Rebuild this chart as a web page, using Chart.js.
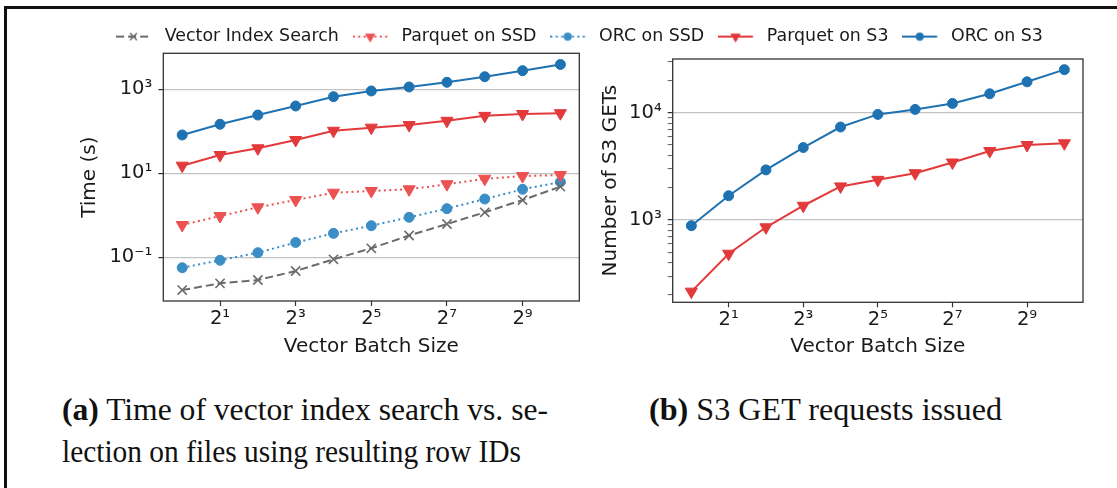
<!DOCTYPE html>
<html>
<head>
<meta charset="utf-8">
<script src="https://cdn.jsdelivr.net/npm/chart.js@4.4.1/dist/chart.umd.min.js"></script>
<style>
  body { margin: 0; background: #fff; }
  #fig { position: relative; width: 1117px; height: 488px; overflow: hidden; background: #fff; }
  #frame { position: absolute; left: 4px; top: 6px; width: 1200px; height: 600px;
           border-left: 3px solid #111; border-top: 3px solid #111; }
  canvas { position: absolute; }
  .cap { position: absolute; font-family: "Liberation Serif", serif; font-size: 32px;
         line-height: 42px; color: #111; white-space: nowrap; transform-origin: 0 0; }
  .cap b { font-weight: bold; }
</style>
</head>
<body>
<div id="fig">
  <div id="frame"></div>
  <canvas id="timeChart" width="590" height="330" style="left:0px;top:40px"></canvas>
  <canvas id="getsChart" width="527" height="330" style="left:590px;top:40px"></canvas>
  <canvas id="legendChart" width="1075" height="120" style="left:42px;top:14px"></canvas>
  <div class="cap" data-w="486" style="left:62px;top:388px"><b>(a)</b> Time of vector index search vs. se-</div>
  <div class="cap" data-w="459" style="left:62px;top:430px">lection on files using resulting row IDs</div>
  <div class="cap" data-w="353" style="left:649px;top:388px"><b>(b)</b> S3 GET requests issued</div>
</div>
<script>
// values
const batchSizes = [1, 2, 4, 8, 16, 32, 64, 128, 256, 512, 1024];

// (a) time in seconds
const vectorSearchTime = [0.0166, 0.024, 0.0288, 0.0472, 0.0895, 0.164, 0.33, 0.62, 1.18, 2.31, 4.8];
const parquetSsdTime   = [0.587, 0.96, 1.55, 2.31, 3.45, 3.79, 4.16, 5.5, 7.4, 8.6, 9.1];
const orcSsdTime       = [0.0565, 0.085, 0.129, 0.225, 0.372, 0.565, 0.895, 1.44, 2.44, 4.16, 6.2];
const parquetS3Time    = [15.2, 27.3, 39.4, 62, 103, 122, 141, 178, 233, 258, 270];
const orcS3Time        = [81.7, 147, 244, 400, 667, 912, 1135, 1468, 1995, 2773, 3900];

// (b) number of S3 GET requests
const parquetS3Gets = [215, 485, 855, 1358, 2056, 2367, 2730, 3435, 4395, 5000, 5190];
const orcS3Gets     = [885, 1683, 2931, 4732, 7352, 9640, 10730, 12200, 15000, 19400, 25200];

const seriesNames = ['Vector Index Search', 'Parquet on SSD', 'ORC on SSD', 'Parquet on S3', 'ORC on S3'];

const xTickValues = [2, 8, 32, 128, 512];
const xTickLabels = ['2\u00B9', '2\u00B3', '2\u2075', '2\u2077', '2\u2079'];
const timeTickValues = [0.1, 10, 1000];
const timeTickLabels = ['10\u207B\u00B9', '10\u00B9', '10\u00B3'];
const getsTickValues = [1000, 10000];
const getsTickLabels = ['10\u00B3', '10\u2074'];

const FONT = 'DejaVu Sans';
const TEXT = '#1a1a1a';

const styles = {
  'Vector Index Search': { color: '#6b6b6b', dash: [8, 4], marker: 'crossRot', radius: 6.5, mbw: 1.6 },
  'Parquet on SSD':      { color: '#ec5252', dash: [2, 3.4], marker: 'triangle', rotation: 180, radius: 7, mbw: 1 },
  'ORC on SSD':          { color: '#3b8dc6', dash: [2, 3.4], marker: 'circle', radius: 5, mbw: 1 },
  'Parquet on S3':       { color: '#e3393b', dash: [], marker: 'triangle', rotation: 180, radius: 7, mbw: 1 },
  'ORC on S3':           { color: '#1f72b1', dash: [], marker: 'circle', radius: 5, mbw: 1 }
};

function dataset(name, values) {
  const st = styles[name];
  return {
    label: name,
    data: batchSizes.map((b, i) => ({ x: b, y: values[i] })),
    borderColor: st.color,
    backgroundColor: st.color,
    borderWidth: 2,
    borderDash: st.dash,
    pointStyle: st.marker,
    pointRotation: st.rotation || 0,
    pointRadius: st.radius,
    pointBorderWidth: st.mbw,
    pointBorderColor: st.color,
    pointBackgroundColor: st.color,
    tension: 0
  };
}

const framePlugin = {
  id: 'frame',
  afterDatasetsDraw(chart) {
    const { ctx, chartArea: a } = chart;
    ctx.save();
    ctx.strokeStyle = '#333';
    ctx.lineWidth = 1.3;
    ctx.strokeRect(a.left, a.top, a.right - a.left, a.bottom - a.top);
    ctx.restore();
  }
};

function xAxis(height) {
  return {
    type: 'logarithmic',
    min: Math.pow(2, -0.5),
    max: Math.pow(2, 10.5),
    bounds: 'data',
    afterBuildTicks: s => { s.ticks = xTickValues.map(v => ({ value: v })); },
    afterFit: s => { s.height = height; s.paddingLeft = 0; s.paddingRight = 0; },
    ticks: {
      autoSkip: false, maxRotation: 0, padding: 1, color: TEXT,
      font: { family: FONT, size: 19.5 },
      callback: (v, i) => xTickLabels[i]
    },
    grid: { drawOnChartArea: false, tickColor: '#333', tickLength: 5, tickWidth: 1.2 },
    border: { display: false },
    title: { display: true, text: 'Vector Batch Size', color: TEXT,
             font: { family: FONT, size: 20 }, padding: { top: 0, bottom: 11 } }
  };
}

function yAxis(opts) {
  return {
    type: 'logarithmic',
    min: opts.min,
    max: opts.max,
    bounds: 'data',
    afterBuildTicks: s => { s.ticks = opts.ticks.map(v => ({ value: v })); },
    afterFit: s => { s.width = opts.width; s.paddingTop = 0; s.paddingBottom = 0; },
    ticks: {
      autoSkip: false, padding: 6, color: TEXT,
      font: { family: FONT, size: 19.5 },
      callback: v => {
        const k = opts.labelValues.indexOf(v);
        return k >= 0 ? opts.labels[k] : '';
      }
    },
    grid: {
      color: c => (c.tick && opts.labelValues.indexOf(c.tick.value) >= 0) ? '#c2c2c2' : 'rgba(0,0,0,0)',
      lineWidth: 1.2,
      tickColor: '#333', tickLength: 5,
      tickWidth: c => (c.tick && opts.labelValues.indexOf(c.tick.value) >= 0) ? 1.2 : 0.8
    },
    border: { display: false },
    title: { display: true, text: opts.title, color: TEXT,
             font: { family: FONT, size: 20 }, padding: { top: opts.titlePad, bottom: 0 } }
  };
}

const baseOptions = {
  responsive: false,
  animation: false,
  events: [],
  plugins: { legend: { display: false }, tooltip: { enabled: false } }
};

new Chart(document.getElementById('timeChart'), {
  type: 'line',
  data: {
    datasets: [
      dataset('Vector Index Search', vectorSearchTime),
      dataset('Parquet on SSD', parquetSsdTime),
      dataset('ORC on SSD', orcSsdTime),
      dataset('Parquet on S3', parquetS3Time),
      dataset('ORC on S3', orcS3Time)
    ]
  },
  options: Object.assign({}, baseOptions, {
    layout: { padding: { left: 0, top: 13.3, right: 10.7, bottom: 0 } },
    scales: {
      x: xAxis(69),
      y: yAxis({ min: 0.00912, max: 7194, ticks: timeTickValues, labelValues: timeTickValues,
                 labels: timeTickLabels, width: 163.3, title: 'Time (s)', titlePad: 78 })
    }
  }),
  plugins: [framePlugin]
});

// minor tick positions for the GET axis
const getsMinor = [];
[100, 1000, 10000].forEach(d => { for (let m = 2; m <= 9; m++) if (m * d < 31000) getsMinor.push(m * d); });

new Chart(document.getElementById('getsChart'), {
  type: 'line',
  data: {
    datasets: [
      dataset('Parquet on S3', parquetS3Gets),
      dataset('ORC on S3', orcS3Gets)
    ]
  },
  options: Object.assign({}, baseOptions, {
    layout: { padding: { left: 0, top: 19, right: 34, bottom: 0 } },
    scales: {
      x: xAxis(67.7),
      y: yAxis({ min: 171, max: 31660, ticks: getsTickValues.concat(getsMinor).sort((a, b) => a - b),
                 labelValues: getsTickValues, labels: getsTickLabels, width: 82.7,
                 title: 'Number of S3 GETs', titlePad: 9 })
    }
  }),
  plugins: [framePlugin]
});

// legend handles: line segment with the marker in its middle
function handleImage(name) {
  const st = styles[name];
  const c = document.createElement('canvas');
  c.width = 40; c.height = 18;
  const g = c.getContext('2d');
  g.strokeStyle = st.color;
  g.fillStyle = st.color;
  g.lineWidth = 2;
  g.setLineDash(st.dash);
  g.beginPath(); g.moveTo(0, 9); g.lineTo(34.8, 9); g.stroke();
  g.setLineDash([]);
  g.lineWidth = st.mbw;
  Chart.helpers.drawPoint(g, { pointStyle: st.marker, radius: st.radius * 0.75,
                               rotation: st.rotation || 0, borderWidth: st.mbw }, 17.4, 9);
  return c;
}

new Chart(document.getElementById('legendChart'), {
  type: 'line',
  data: { datasets: seriesNames.map(n => ({ label: n, data: [] })) },
  options: Object.assign({}, baseOptions, {
    layout: { padding: 0 },
    scales: { x: { display: false }, y: { display: false } },
    plugins: {
      tooltip: { enabled: false },
      legend: {
        display: true,
        position: 'top',
        maxHeight: 80,
        labels: {
          usePointStyle: true,
          pointStyleWidth: 40,
          padding: 13.9,
          color: TEXT,
          font: { family: FONT, size: 17.4 },
          generateLabels: () => seriesNames.map((n, i) => ({
            text: n, pointStyle: handleImage(n), datasetIndex: i, hidden: false,
            fontColor: TEXT, lineWidth: 0, strokeStyle: 'rgba(0,0,0,0)', fillStyle: 'rgba(0,0,0,0)'
          }))
        }
      }
    }
  })
});

// stretch captions to the widths seen in the figure
document.querySelectorAll('.cap').forEach(el => {
  const w = el.getBoundingClientRect().width;
  el.style.transform = 'scaleX(' + (Number(el.dataset.w) / w) + ')';
});
</script>
</body>
</html>
